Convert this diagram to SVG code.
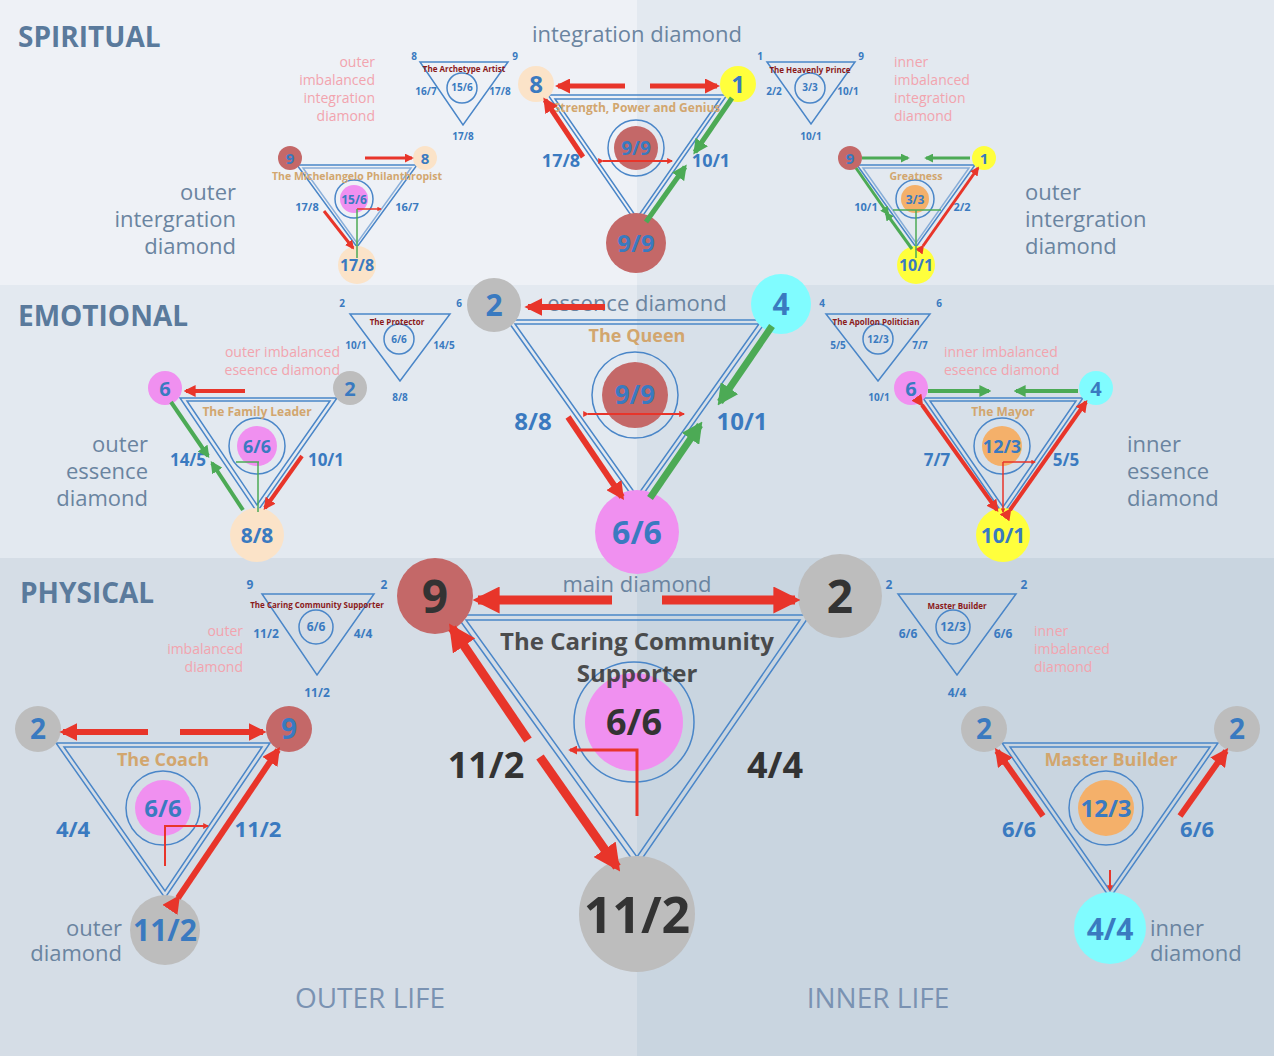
<svg xmlns="http://www.w3.org/2000/svg" width="1274" height="1056" viewBox="0 0 1274 1056">
<style>
text{font-family:"Open Sans","Noto Sans","Liberation Sans",sans-serif}
.tri{fill:none;stroke:#4a86c8;stroke-width:1.5}
.c{fill:none;stroke:#4a86c8;stroke-width:1.5}
.n{fill:#3a7ac0;font-weight:bold;text-anchor:middle}
.d{fill:#333;font-weight:bold;text-anchor:middle}
.lbl{fill:#6a84a0;font-size:22px}
.pk{fill:#f2a4ae;font-size:14px}
.hd{fill:#5a7a9c;font-size:28px;font-weight:bold}
.tt{fill:#d2a66e;font-weight:bold;text-anchor:middle}
.st{fill:#8b1a1a;font-weight:bold;text-anchor:middle;font-size:8px}
.r{stroke:#e8352a;fill:none}
.g{stroke:#4caa55;fill:none}
.red{fill:#c46868}.pch{fill:#fbe3c8}.yel{fill:#ffff3c}.pnk{fill:#f090f0}.gry{fill:#bdbdbd}.cy{fill:#80fcff}.org{fill:#f4b06a}
</style>
<defs>
<marker id="ar" viewBox="0 0 10 10" refX="8" refY="5" markerWidth="3" markerHeight="3" orient="auto"><path d="M0,0L10,5L0,10z" fill="#e8352a"/></marker>
<marker id="ag" viewBox="0 0 10 10" refX="8" refY="5" markerWidth="3" markerHeight="3" orient="auto"><path d="M0,0L10,5L0,10z" fill="#4caa55"/></marker>
</defs>
<!-- background -->
<rect x="0" y="0" width="637" height="285" fill="#eef1f6"/>
<rect x="637" y="0" width="637" height="285" fill="#e3e9f0"/>
<rect x="0" y="285" width="637" height="273" fill="#e3e9f0"/>
<rect x="637" y="285" width="637" height="273" fill="#d7e0e9"/>
<rect x="0" y="558" width="637" height="498" fill="#d5dde6"/>
<rect x="637" y="558" width="637" height="498" fill="#c9d5e0"/>

<!-- headings/labels -->
<g id="labels">
<text x="18" y="47" class="hd">SPIRITUAL</text>
<text x="18" y="326" class="hd">EMOTIONAL</text>
<text x="20" y="603" class="hd">PHYSICAL</text>
<text x="637" y="42" class="lbl" text-anchor="middle">integration diamond</text>
<text x="637" y="311" class="lbl" text-anchor="middle">essence diamond</text>
<text x="637" y="592" class="lbl" text-anchor="middle">main diamond</text>
<text class="lbl" text-anchor="end"><tspan x="236" y="200">outer</tspan><tspan x="236" y="227">intergration</tspan><tspan x="236" y="254">diamond</tspan></text>
<text class="lbl"><tspan x="1025" y="200">outer</tspan><tspan x="1025" y="227">intergration</tspan><tspan x="1025" y="254">diamond</tspan></text>
<text class="pk" text-anchor="end"><tspan x="375" y="67">outer</tspan><tspan x="375" y="85">imbalanced</tspan><tspan x="375" y="103">integration</tspan><tspan x="375" y="121">diamond</tspan></text>
<text class="pk"><tspan x="894" y="67">inner</tspan><tspan x="894" y="85">imbalanced</tspan><tspan x="894" y="103">integration</tspan><tspan x="894" y="121">diamond</tspan></text>
<text class="lbl" text-anchor="end"><tspan x="148" y="452">outer</tspan><tspan x="148" y="479">essence</tspan><tspan x="148" y="506">diamond</tspan></text>
<text class="lbl"><tspan x="1127" y="452">inner</tspan><tspan x="1127" y="479">essence</tspan><tspan x="1127" y="506">diamond</tspan></text>
<text class="pk" text-anchor="end"><tspan x="340" y="357">outer imbalanced</tspan><tspan x="340" y="375">eseence diamond</tspan></text>
<text class="pk"><tspan x="944" y="357">inner imbalanced</tspan><tspan x="944" y="375">eseence diamond</tspan></text>
<text class="pk" text-anchor="end"><tspan x="243" y="636">outer</tspan><tspan x="243" y="654">imbalanced</tspan><tspan x="243" y="672">diamond</tspan></text>
<text class="pk"><tspan x="1034" y="636">inner</tspan><tspan x="1034" y="654">imbalanced</tspan><tspan x="1034" y="672">diamond</tspan></text>
<text class="lbl" text-anchor="end"><tspan x="122" y="936">outer</tspan><tspan x="122" y="961">diamond</tspan></text>
<text class="lbl"><tspan x="1150" y="936">inner</tspan><tspan x="1150" y="961">diamond</tspan></text>
<text x="370" y="1008" fill="#7a92b2" font-size="28" text-anchor="middle">OUTER LIFE</text>
<text x="878" y="1008" fill="#7a92b2" font-size="28" text-anchor="middle">INNER LIFE</text>
</g>

<!-- small reference triangles -->
<g id="archetype-artist">
<path class="tri" d="M420,62H508L463,125Z"/><circle class="c" cx="462" cy="88" r="15"/>
<text x="464" y="72" class="st">The Archetype Artist</text>
<text class="n" font-size="10"><tspan x="462" y="91">15/6</tspan><tspan x="414" y="60">8</tspan><tspan x="515" y="60">9</tspan><tspan x="426" y="95">16/7</tspan><tspan x="500" y="95">17/8</tspan><tspan x="463" y="140">17/8</tspan></text>
</g>
<g id="heavenly-prince">
<path class="tri" d="M767,62H855L811,124Z"/><circle class="c" cx="810" cy="88" r="15"/>
<text x="810" y="73" class="st">The Heavenly Prince</text>
<text class="n" font-size="10"><tspan x="810" y="91">3/3</tspan><tspan x="760" y="60">1</tspan><tspan x="861" y="60">9</tspan><tspan x="774" y="95">2/2</tspan><tspan x="848" y="95">10/1</tspan><tspan x="811" y="140">10/1</tspan></text>
</g>
<g id="protector">
<path class="tri" d="M350,314H450L400,381Z"/><circle class="c" cx="399" cy="339" r="15"/>
<text x="397" y="325" class="st" font-size="9">The Protector</text>
<text class="n" font-size="10"><tspan x="399" y="343">6/6</tspan><tspan x="342" y="307">2</tspan><tspan x="459" y="307">6</tspan><tspan x="356" y="349">10/1</tspan><tspan x="444" y="349">14/5</tspan><tspan x="400" y="401">8/8</tspan></text>
</g>
<g id="apollon">
<path class="tri" d="M826,314H930L878,381Z"/><circle class="c" cx="878" cy="339" r="15"/>
<text x="876" y="325" class="st" font-size="9">The Apollon Politician</text>
<text class="n" font-size="10"><tspan x="878" y="343">12/3</tspan><tspan x="822" y="307">4</tspan><tspan x="939" y="307">6</tspan><tspan x="838" y="349">5/5</tspan><tspan x="920" y="349">7/7</tspan><tspan x="879" y="401">10/1</tspan></text>
</g>
<g id="ccs-small">
<path class="tri" d="M262,594H374L317,675Z"/><circle class="c" cx="316" cy="627" r="17"/>
<text x="317" y="608" class="st" font-size="9">The Caring Community Supporter</text>
<text class="n" font-size="12"><tspan x="316" y="631">6/6</tspan><tspan x="250" y="589">9</tspan><tspan x="384" y="589">2</tspan><tspan x="266" y="638">11/2</tspan><tspan x="363" y="638">4/4</tspan><tspan x="317" y="697">11/2</tspan></text>
</g>
<g id="mb-small">
<path class="tri" d="M898,594H1016L957,675Z"/><circle class="c" cx="953" cy="627" r="17"/>
<text x="957" y="609" class="st" font-size="9">Master Builder</text>
<text class="n" font-size="12"><tspan x="953" y="631">12/3</tspan><tspan x="889" y="589">2</tspan><tspan x="1024" y="589">2</tspan><tspan x="908" y="638">6/6</tspan><tspan x="1003" y="638">6/6</tspan><tspan x="957" y="697">4/4</tspan></text>
</g>

<!-- diamond triangles -->
<g id="triangles">
<path class="tri" d="M548,95H727L637,224Z"/><path class="tri" d="M555,99H720L637,218Z"/>
<path class="tri" d="M297,165H417L357,247Z"/><path class="tri" d="M303,168H411L357,243Z" opacity="0.6"/>
<path class="tri" d="M857,165H975L916,247Z"/><path class="tri" d="M863,168H969L916,243Z" opacity="0.6"/>
<path class="tri" d="M507,320H767L637,503Z"/><path class="tri" d="M515,324H759L637,496Z"/>
<path class="tri" d="M180,398H337L257,512Z"/><path class="tri" d="M187,401H330L257,505Z"/>
<path class="tri" d="M923,398H1083L1003,514Z"/><path class="tri" d="M930,401H1076L1003,507Z"/>
<path class="tri" d="M456,615H810L637,866Z"/><path class="tri" d="M466,620H800L637,857Z"/>
<path class="tri" d="M56,743H270L165,898Z"/><path class="tri" d="M64,747H262L165,891Z"/>
<path class="tri" d="M1002,743H1218L1110,898Z"/><path class="tri" d="M1010,747H1210L1110,891Z"/>
</g>

<!-- nodes -->
<g id="spirit-center">
<circle class="c" cx="636" cy="148" r="28"/><circle class="red" cx="636" cy="148" r="22"/>
<text x="636" y="155" class="n" font-size="19">9/9</text>
<text x="637" y="112" class="tt" font-size="12">Strength, Power and Genius</text>
<text x="561" y="167" class="n" font-size="18">17/8</text><text x="711" y="167" class="n" font-size="18">10/1</text>
</g>
<g id="n-s8"><circle class="pch" cx="536" cy="84" r="18"/><text x="536" y="93" class="n" font-size="24">8</text></g>
<g id="n-s1"><circle class="yel" cx="738" cy="84" r="18"/><text x="738" y="93" class="n" font-size="24">1</text></g>
<g id="n-s99"><circle class="red" cx="636" cy="243" r="30"/><text x="636" y="252" class="n" font-size="24">9/9</text></g>

<g id="michelangelo">
<circle class="c" cx="354" cy="199" r="19"/><circle class="pnk" cx="354" cy="199" r="14"/>
<text x="354" y="204" class="n" font-size="12">15/6</text>
<text x="357" y="180" class="tt" font-size="10.5">The Michelangelo Philanthropist</text>
<text x="307" y="211" class="n" font-size="11">17/8</text><text x="407" y="211" class="n" font-size="11">16/7</text>
<circle class="red" cx="290" cy="158" r="12"/><text x="290" y="164" class="n" font-size="15">9</text>
<circle class="pch" cx="425" cy="158" r="12"/><text x="425" y="164" class="n" font-size="15">8</text>
<circle class="pch" cx="357" cy="265" r="19"/><text x="357" y="271" class="n" font-size="16">17/8</text>
</g>
<g id="greatness">
<circle class="c" cx="915" cy="199" r="19"/><circle class="org" cx="915" cy="199" r="14"/>
<text x="915" y="204" class="n" font-size="12">3/3</text>
<text x="916" y="180" class="tt" font-size="10.5">Greatness</text>
<text x="866" y="211" class="n" font-size="11">10/1</text><text x="962" y="211" class="n" font-size="11">2/2</text>
<circle class="red" cx="850" cy="158" r="12"/><text x="850" y="164" class="n" font-size="15">9</text>
<circle class="yel" cx="984" cy="158" r="12"/><text x="984" y="164" class="n" font-size="15">1</text>
<circle class="yel" cx="916" cy="265" r="19"/><text x="916" y="271" class="n" font-size="16">10/1</text>
</g>

<g id="queen">
<circle class="c" cx="635" cy="395" r="43"/><circle class="red" cx="635" cy="395" r="33"/>
<text x="635" y="404" class="n" font-size="26">9/9</text>
<text x="637" y="342" class="tt" font-size="18">The Queen</text>
<text x="533" y="430" class="n" font-size="24">8/8</text><text x="742" y="430" class="n" font-size="24">10/1</text>
<circle class="gry" cx="494" cy="305" r="27"/><text x="494" y="316" class="n" font-size="30">2</text>
<circle class="cy" cx="781" cy="304" r="30"/><text x="781" y="315" class="n" font-size="30">4</text>
<circle class="pnk" cx="637" cy="532" r="42"/><text x="637" y="544" class="n" font-size="32">6/6</text>
</g>
<g id="family-leader">
<circle class="c" cx="257" cy="446" r="28"/><circle class="pnk" cx="257" cy="446" r="20"/>
<text x="257" y="453" class="n" font-size="18">6/6</text>
<text x="257" y="416" class="tt" font-size="12">The Family Leader</text>
<text x="188" y="466" class="n" font-size="17">14/5</text><text x="326" y="466" class="n" font-size="17">10/1</text>
<circle class="pnk" cx="165" cy="388" r="17"/><text x="165" y="396" class="n" font-size="20">6</text>
<circle class="gry" cx="350" cy="388" r="17"/><text x="350" y="396" class="n" font-size="20">2</text>
<circle class="pch" cx="257" cy="535" r="27"/><text x="257" y="543" class="n" font-size="21">8/8</text>
</g>
<g id="mayor">
<circle class="c" cx="1002" cy="446" r="28"/><circle class="org" cx="1002" cy="446" r="20"/>
<text x="1002" y="453" class="n" font-size="18">12/3</text>
<text x="1003" y="416" class="tt" font-size="12">The Mayor</text>
<text x="937" y="466" class="n" font-size="17">7/7</text><text x="1066" y="466" class="n" font-size="17">5/5</text>
<circle class="pnk" cx="911" cy="388" r="17"/><text x="911" y="396" class="n" font-size="20">6</text>
<circle class="cy" cx="1096" cy="388" r="17"/><text x="1096" y="396" class="n" font-size="20">4</text>
<circle class="yel" cx="1003" cy="535" r="27"/><text x="1003" y="543" class="n" font-size="21">10/1</text>
</g>

<g id="main">
<circle class="c" cx="634" cy="722" r="60"/><circle class="pnk" cx="634" cy="722" r="49"/>
<text x="634" y="735" class="d" font-size="36">6/6</text>
<text class="d" font-size="24" fill="#555" opacity="0.85"><tspan x="637" y="650">The Caring Community</tspan><tspan x="637" y="682">Supporter</tspan></text>
<text x="486" y="778" class="d" font-size="36">11/2</text><text x="775" y="778" class="d" font-size="36">4/4</text>
<circle class="red" cx="435" cy="596" r="38"/><text x="435" y="613" class="d" font-size="46">9</text>
<circle class="gry" cx="840" cy="596" r="42"/><text x="840" y="613" class="d" font-size="46">2</text>
<circle class="gry" cx="637" cy="914" r="58"/><text x="637" y="933" class="d" font-size="50">11/2</text>
</g>
<g id="coach">
<circle class="c" cx="163" cy="808" r="37"/><circle class="pnk" cx="163" cy="808" r="28"/>
<text x="163" y="817" class="n" font-size="24">6/6</text>
<text x="163" y="766" class="tt" font-size="18">The Coach</text>
<text x="73" y="837" class="n" font-size="22">4/4</text><text x="258" y="837" class="n" font-size="22">11/2</text>
<circle class="gry" cx="38" cy="729" r="23"/><text x="38" y="739" class="n" font-size="28">2</text>
<circle class="red" cx="289" cy="729" r="23"/><text x="289" y="739" class="n" font-size="28">9</text>
<circle class="gry" cx="165" cy="930" r="35"/><text x="165" y="941" class="n" font-size="30">11/2</text>
</g>
<g id="master-builder">
<circle class="c" cx="1106" cy="808" r="37"/><circle class="org" cx="1106" cy="808" r="28"/>
<text x="1106" y="817" class="n" font-size="24">12/3</text>
<text x="1111" y="766" class="tt" font-size="18">Master Builder</text>
<text x="1019" y="837" class="n" font-size="22">6/6</text><text x="1197" y="837" class="n" font-size="22">6/6</text>
<circle class="gry" cx="984" cy="729" r="23"/><text x="984" y="739" class="n" font-size="28">2</text>
<circle class="gry" cx="1237" cy="729" r="23"/><text x="1237" y="739" class="n" font-size="28">2</text>
<circle class="cy" cx="1110" cy="928" r="36"/><text x="1110" y="940" class="n" font-size="30">4/4</text>
</g>

<!-- connectors -->
<g id="connectors">
<!-- spiritual center -->
<path class="r" stroke-width="5" marker-end="url(#ar)" d="M625,86H558"/>
<path class="r" stroke-width="5" marker-end="url(#ar)" d="M650,86H717"/>
<path class="r" stroke-width="5" marker-end="url(#ar)" d="M583,157L545,100"/>
<path class="g" stroke-width="5" marker-end="url(#ag)" d="M732,98L695,152"/>
<path class="g" stroke-width="5" marker-end="url(#ag)" d="M646,222L685,167"/>
<path class="r" stroke-width="2" marker-start="url(#ar)" marker-end="url(#ar)" d="M603,161H672"/>
<!-- michelangelo -->
<path class="r" stroke-width="3" marker-end="url(#ar)" d="M365,158H412"/>
<path class="r" stroke-width="3" marker-end="url(#ar)" d="M324,211L353,248"/>
<path class="r" stroke-width="1.5" marker-end="url(#ar)" d="M357,209H381"/>
<path class="g" stroke-width="1.5" d="M357,209V258"/>
<!-- greatness -->
<path class="g" stroke-width="3" marker-end="url(#ag)" d="M862,158H908"/>
<path class="g" stroke-width="3" marker-end="url(#ag)" d="M970,158H926"/>
<path class="g" stroke-width="3" marker-end="url(#ag)" d="M856,168L888,214"/>
<path class="g" stroke-width="3" marker-end="url(#ag)" d="M912,249L886,213"/>
<path class="r" stroke-width="3" marker-start="url(#ar)" marker-end="url(#ar)" d="M923,246L978,168"/>
<path class="g" stroke-width="1.5" d="M893,210H941M916,210V258"/>
<!-- queen -->
<path class="r" stroke-width="6" marker-end="url(#ar)" d="M605,307H528"/>
<path class="g" stroke-width="7" marker-end="url(#ag)" d="M772,326L720,402"/>
<path class="g" stroke-width="7" marker-end="url(#ag)" d="M650,498L700,425"/>
<path class="r" stroke-width="6" marker-end="url(#ar)" d="M568,417L622,497"/>
<path class="r" stroke-width="2" marker-start="url(#ar)" marker-end="url(#ar)" d="M588,414H684"/>
<!-- family leader -->
<path class="r" stroke-width="4" marker-end="url(#ar)" d="M245,391H186"/>
<path class="g" stroke-width="4" marker-end="url(#ag)" d="M171,402L208,456"/>
<path class="g" stroke-width="4" marker-end="url(#ag)" d="M243,510L212,463"/>
<path class="r" stroke-width="4" marker-end="url(#ar)" d="M302,456L265,508"/>
<path class="g" stroke-width="1.5" d="M259,462H236M258,462V512"/>
<!-- mayor -->
<path class="g" stroke-width="4" marker-end="url(#ag)" d="M928,391H989"/>
<path class="g" stroke-width="4" marker-end="url(#ag)" d="M1078,391H1016"/>
<path class="r" stroke-width="4" marker-start="url(#ar)" marker-end="url(#ar)" d="M922,405L997,510"/>
<path class="r" stroke-width="4" marker-start="url(#ar)" marker-end="url(#ar)" d="M1010,510L1086,402"/>
<path class="r" stroke-width="1.5" marker-end="url(#ar)" d="M1003,462H1035"/>
<path class="r" stroke-width="1.5" marker-end="url(#ar)" d="M1003,462V512"/>
<!-- main -->
<path class="r" stroke-width="9" marker-end="url(#ar)" d="M612,600H478"/>
<path class="r" stroke-width="9" marker-end="url(#ar)" d="M662,600H795"/>
<path class="r" stroke-width="9" marker-end="url(#ar)" d="M528,740L452,628"/>
<path class="r" stroke-width="9" marker-end="url(#ar)" d="M540,757L617,867"/>
<path class="r" stroke-width="3" marker-end="url(#ar)" d="M637,816V750H570"/>
<!-- coach -->
<path class="r" stroke-width="6" marker-end="url(#ar)" d="M148,732H63"/>
<path class="r" stroke-width="6" marker-end="url(#ar)" d="M180,732H263"/>
<path class="r" stroke-width="6" marker-start="url(#ar)" marker-end="url(#ar)" d="M178,898L278,750"/>
<path class="r" stroke-width="2" marker-end="url(#ar)" d="M165,866V826H208"/>
<!-- master builder -->
<path class="r" stroke-width="6" marker-end="url(#ar)" d="M1043,816L997,751"/>
<path class="r" stroke-width="6" marker-end="url(#ar)" d="M1180,816L1226,751"/>
<path class="r" stroke-width="2" marker-end="url(#ar)" d="M1110,870V890"/>
</g>
</svg>
